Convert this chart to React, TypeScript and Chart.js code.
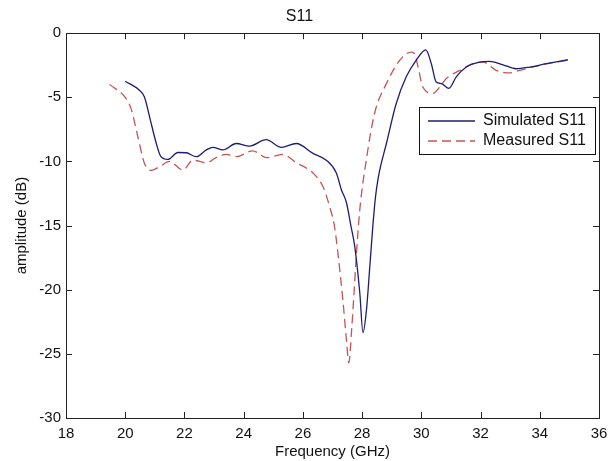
import React, { useEffect, useRef } from "react";
import { Chart, registerables } from "chart.js";

Chart.register(...registerables);

const simFreq = [20.0, 20.48, 20.65, 20.82, 21.05, 21.2, 21.44, 21.78, 22.06, 22.4, 22.74, 22.96, 23.3, 23.75, 24.2, 24.76, 25.27, 25.78, 26.34, 26.79, 27.13, 27.3, 27.47, 27.62, 27.75, 27.92, 28.03, 28.15, 28.25, 28.36, 28.45, 28.55, 28.82, 29.15, 29.49, 29.83, 30.15, 30.34, 30.5, 30.68, 30.93, 31.18, 31.52, 31.97, 32.3, 32.76, 33.2, 33.66, 34.22, 34.95];
const simAmp = [-3.75, -4.45, -4.97, -6.5, -8.6, -9.6, -9.84, -9.3, -9.32, -9.63, -9.1, -8.9, -9.1, -8.6, -8.8, -8.3, -8.9, -8.6, -9.37, -9.9, -10.9, -12.2, -13.2, -15.0, -16.6, -20.2, -23.35, -21.5, -18.5, -15.1, -12.8, -11.2, -8.6, -5.5, -3.4, -2.1, -1.3, -2.4, -3.8, -3.93, -4.3, -3.4, -2.64, -2.25, -2.2, -2.46, -2.77, -2.64, -2.38, -2.07];

const measFreq = [19.47, 20.03, 20.2, 20.43, 20.65, 20.88, 21.16, 21.5, 21.95, 22.28, 22.74, 23.07, 23.41, 23.75, 24.31, 24.76, 25.32, 25.78, 26.34, 26.68, 26.9, 27.07, 27.2, 27.35, 27.47, 27.55, 27.65, 27.72, 27.8, 27.92, 28.14, 28.42, 28.82, 29.27, 29.66, 29.77, 29.89, 30.05, 30.39, 30.62, 30.84, 31.3, 31.74, 32.08, 32.53, 32.98, 33.32, 33.66, 34.22, 34.95];
const measAmp = [-3.99, -5.1, -5.9, -8.1, -10.15, -10.7, -10.4, -10.0, -10.67, -9.9, -10.1, -9.7, -9.45, -9.63, -9.17, -9.7, -9.45, -10.1, -10.9, -11.97, -13.5, -15.1, -17.5, -20.8, -23.9, -25.7, -23.0, -20.5, -17.5, -13.8, -9.9, -6.26, -3.93, -2.12, -1.47, -1.6, -2.64, -4.2, -4.7, -4.2, -3.54, -2.9, -2.38, -2.25, -2.9, -3.1, -2.9, -2.7, -2.4, -2.1];

const seriesNames = ["Simulated S11", "Measured S11"];
const xTicks = [18, 20, 22, 24, 26, 28, 30, 32, 34, 36];
const yTicks = [0, -5, -10, -15, -20, -25, -30];

const FONT = "'Liberation Sans', Arial, sans-serif";
const SIM_COLOR = "#1c1c72";
const MEAS_COLOR = "#c65454";

const boxPlugin = {
  id: "boxPlugin",
  afterDraw(chart: any) {
    const { ctx, chartArea } = chart;
    const { left, right, top, bottom } = chartArea;
    const xs = chart.scales.x;
    const ys = chart.scales.y;
    ctx.save();
    ctx.strokeStyle = "#222";
    ctx.lineWidth = 1;
    ctx.setLineDash([]);
    ctx.strokeRect(Math.round(left) + 0.5, Math.round(top) + 0.5, Math.round(right - left), Math.round(bottom - top));
    const tl = 6;
    ctx.beginPath();
    xTicks.forEach((v) => {
      const px = Math.round(xs.getPixelForValue(v)) + 0.5;
      ctx.moveTo(px, bottom);
      ctx.lineTo(px, bottom - tl);
      ctx.moveTo(px, top);
      ctx.lineTo(px, top + tl);
    });
    yTicks.forEach((v) => {
      const py = Math.round(ys.getPixelForValue(v)) + 0.5;
      ctx.moveTo(left, py);
      ctx.lineTo(left + tl, py);
      ctx.moveTo(right, py);
      ctx.lineTo(right - tl, py);
    });
    ctx.stroke();

    // legend
    const lx = 419.5, ly = 107.5, lw = 176, lh = 47;
    ctx.fillStyle = "#fff";
    ctx.fillRect(lx, ly, lw, lh);
    ctx.strokeStyle = "#111";
    ctx.strokeRect(lx, ly, lw, lh);
    ctx.lineWidth = 1.3;
    ctx.strokeStyle = SIM_COLOR;
    ctx.beginPath();
    ctx.moveTo(428, 121);
    ctx.lineTo(475, 121);
    ctx.stroke();
    ctx.strokeStyle = MEAS_COLOR;
    ctx.setLineDash([9, 5]);
    ctx.beginPath();
    ctx.moveTo(428, 141);
    ctx.lineTo(475, 141);
    ctx.stroke();
    ctx.setLineDash([]);
    ctx.fillStyle = "#111";
    ctx.font = `16px ${FONT}`;
    ctx.textBaseline = "middle";
    ctx.textAlign = "left";
    ctx.fillText(seriesNames[0], 483, 121);
    ctx.fillText(seriesNames[1], 483, 141);
    ctx.restore();
  },
};

export default function App() {
  const ref = useRef<HTMLCanvasElement>(null);
  useEffect(() => {
    if (!ref.current) return;
    const chart = new Chart(ref.current, {
      type: "line",
      data: {
        datasets: [
          {
            label: seriesNames[0],
            data: simFreq.map((x, i) => ({ x, y: simAmp[i] })),
            borderColor: SIM_COLOR,
            borderWidth: 1.3,
            pointRadius: 0,
            cubicInterpolationMode: "monotone",
            fill: false,
          },
          {
            label: seriesNames[1],
            data: measFreq.map((x, i) => ({ x, y: measAmp[i] })),
            borderColor: MEAS_COLOR,
            borderWidth: 1.3,
            borderDash: [9, 5],
            pointRadius: 0,
            cubicInterpolationMode: "monotone",
            fill: false,
          },
        ],
      },
      options: {
        responsive: false,
        animation: false,
        devicePixelRatio: 1,
        layout: { padding: { left: 0, right: 17, top: 0, bottom: 0 } },
        plugins: {
          legend: { display: false },
          tooltip: { enabled: false },
          title: {
            display: true,
            text: "S11",
            color: "#111",
            font: { family: FONT, size: 16, weight: "normal" },
            padding: { top: 7, bottom: 7 },
          },
        },
        scales: {
          x: {
            type: "linear",
            min: 18,
            max: 36,
            grid: { display: false, drawTicks: false },
            border: { display: false },
            ticks: {
              stepSize: 2,
              color: "#111",
              font: { family: FONT, size: 15 },
              padding: 7,
              maxRotation: 0,
            },
            title: {
              display: true,
              text: "Frequency (GHz)",
              color: "#111",
              font: { family: FONT, size: 15 },
              padding: 0,
            },
            afterFit(scale: any) {
              scale.height = 43;
            },
          },
          y: {
            type: "linear",
            min: -30,
            max: 0,
            grid: { display: false, drawTicks: false },
            border: { display: false },
            ticks: {
              stepSize: 5,
              color: "#111",
              font: { family: FONT, size: 15 },
              padding: 5,
            },
            title: {
              display: true,
              text: "amplitude (dB)",
              color: "#111",
              font: { family: FONT, size: 15 },
              padding: { top: 13, bottom: 0 },
            },
            afterFit(scale: any) {
              scale.width = 66;
            },
          },
        },
      },
      plugins: [boxPlugin],
    });
    return () => chart.destroy();
  }, []);
  return (
    <div style={{ position: "absolute", left: 0, top: 0, width: 616, height: 461, background: "#fff" }}>
      <canvas ref={ref} width={616} height={461} style={{ width: 616, height: 461, display: "block" }} />
    </div>
  );
}
